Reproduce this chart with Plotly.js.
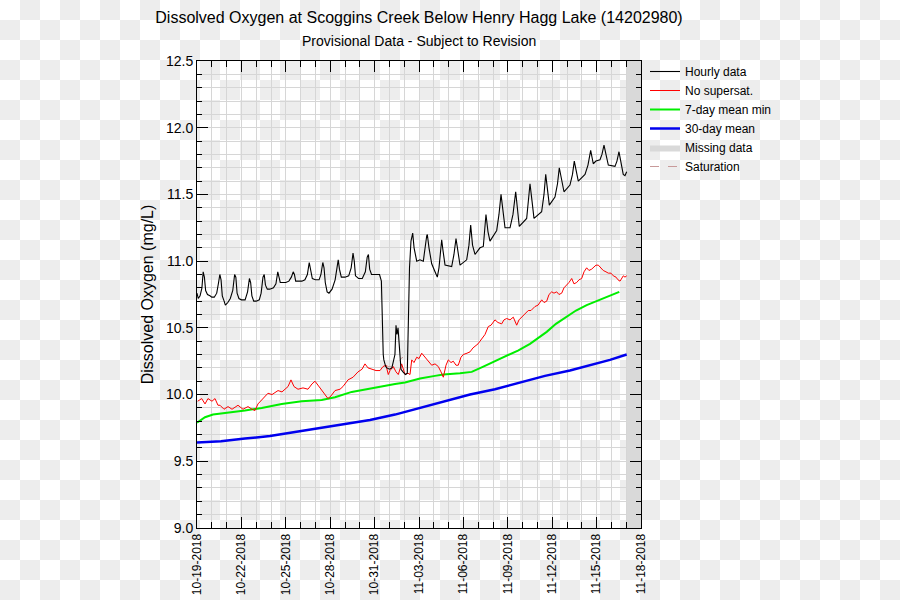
<!DOCTYPE html>
<html>
<head>
<meta charset="utf-8">
<script src="https://cdn.plot.ly/plotly-3.0.1.min.js"></script>
<style>html,body{margin:0;padding:0;background:#fff;}#chart{width:900px;height:600px;}</style>
</head>
<body>
<div id="chart"></div>
<script>
// Times are hours after 2018-10-19 00:00
var hourlyHours = [0,2,5,8,10,12,14,17,21,24,28,32,35,37,39,41,44,46,50,54,58,61,63,65,68,72,78,82,85,87,89,92,96,101,104,107,109,111,114,118,124,128,131,133,135,139,144,149,153,156,158,160,164,170,175,179,182,184,187,192,198,201,204,206,208,211,214,219,224,227,229,231,234,240,246,250,253,255,257,262,268,273,276,278,280,283,288,296,299,300,301,302,303,304,306,308,312,316,321,322.7,324.3,326,327.6,329.2,330.8,334,338,341,342.2,344.6,347,349.8,352,356.3,361.6,367,372.5,373.5,376.2,380.6,386,389.7,392.4,396.8,398.9,402.2,413,416.7,420,423.2,426.5,437.3,441,443.8,446.8,450.8,458.9,464.3,467,468.6,471.9,475.1,486,489.7,493,496.2,499.5,507.6,512.4,516.8,519.7,522.6,534.6,537.6,540,543.3,546.5,558.9,562.7,565.5,568.4,571.3,580.5,584.6,587.5,591.1,595.1,604.8,608.9,611.8,615.4,618.3,629.2,634,638.4,640.5,642.6,647,653.5,656.7,660,663.2,667,677.8,681,684.3,687.5,691.2,694,696.8];
var hourlyValues = [10.76,10.72,10.74,10.80,10.92,10.88,10.78,10.75,10.74,10.73,10.73,10.76,10.84,10.90,10.86,10.74,10.70,10.67,10.69,10.72,10.78,10.90,10.88,10.76,10.72,10.71,10.71,10.77,10.87,10.84,10.74,10.70,10.70,10.71,10.76,10.88,10.90,10.82,10.79,10.79,10.80,10.83,10.92,10.88,10.84,10.84,10.84,10.85,10.88,10.92,10.90,10.85,10.85,10.85,10.86,10.90,10.99,10.95,10.87,10.86,10.86,10.90,10.99,10.95,10.84,10.77,10.76,10.79,10.86,10.95,11.01,10.94,10.88,10.88,10.89,10.95,11.06,11.00,10.89,10.87,10.87,10.92,11.03,11.05,10.94,10.90,10.90,10.90,10.85,10.60,10.38,10.30,10.26,10.24,10.21,10.20,10.19,10.20,10.30,10.52,10.45,10.50,10.40,10.25,10.19,10.17,10.15,10.16,10.50,10.95,11.15,11.21,11.10,11.00,11.01,11.00,11.19,11.20,11.10,10.98,10.92,10.88,10.95,11.16,11.08,10.97,10.96,11.05,11.17,11.05,10.97,11.01,11.12,11.27,11.12,11.05,11.10,11.11,11.25,11.35,11.22,11.15,11.23,11.35,11.50,11.35,11.25,11.25,11.35,11.52,11.38,11.26,11.32,11.45,11.58,11.45,11.32,11.37,11.50,11.65,11.52,11.42,11.48,11.58,11.70,11.60,11.52,11.57,11.65,11.75,11.66,11.60,11.65,11.72,11.83,11.78,11.73,11.75,11.76,11.80,11.87,11.80,11.72,11.71,11.75,11.82,11.75,11.65,11.64,11.67];

var noSupersatHours = [1.1,7.6,13,17.8,24.3,29.2,34,37.3,43.8,50.3,56.8,66.5,74.6,82.7,89.2,94,98.9,105.4,110.3,115.1,121.6,131.4,137.8,142.7,147.6,152.4,157.3,163.8,171.9,180,186.5,191.4,196.2,204.3,209.2,212.4,217.3,223.8,231.9,236.7,244.9,253,261.1,267.6,272.4,277.3,283.8,290.3,296.8,301.6,306.5,310.2,313,318.3,322.7,326.4,331.9,337.3,342.2,345.4,348.2,351.9,356.3,360,364.4,368.1,372.5,376.2,380.6,386,391.3,395.7,399.4,403.8,407.5,411.9,415.6,420,423.7,428.1,431.8,437.8,442.7,447.6,450.8,455.7,458.9,463.8,467,472.4,476.8,483.2,488.1,494.1,497.8,502.2,507.6,512.9,518.4,522.2,526.5,531.9,537.2,541.6,548.1,553,559,562.7,567.1,570.8,575.2,578.9,583.3,587,591.4,595.1,599.5,603.2,607.6,611.3,615.7,619.5,623.8,627.6,631.9,635.6,640,643.8,647,650.8,655.1,658.8,663.2,667,671.3,675.1,679.5,682.7,686,688.6,691.3,694,696.8];
var noSupersatValues = [9.95,9.97,9.93,9.97,9.95,9.97,9.92,9.92,9.89,9.91,9.89,9.92,9.89,9.91,9.89,9.88,9.93,9.96,9.99,10.01,10.00,10.03,10.02,10.04,10.06,10.11,10.06,10.04,10.05,10.04,10.08,10.10,10.07,10.02,9.99,9.97,9.99,10.03,10.04,10.06,10.11,10.13,10.17,10.19,10.23,10.20,10.19,10.18,10.18,10.21,10.22,10.15,10.18,10.21,10.17,10.15,10.23,10.15,10.16,10.15,10.26,10.24,10.28,10.27,10.31,10.29,10.27,10.25,10.22,10.23,10.21,10.17,10.13,10.22,10.26,10.24,10.25,10.22,10.22,10.28,10.30,10.31,10.32,10.35,10.36,10.38,10.40,10.43,10.45,10.51,10.52,10.56,10.54,10.53,10.56,10.57,10.56,10.58,10.52,10.56,10.58,10.60,10.63,10.63,10.66,10.67,10.71,10.69,10.70,10.75,10.77,10.76,10.77,10.75,10.76,10.80,10.82,10.84,10.87,10.83,10.84,10.86,10.87,10.92,10.95,10.93,10.94,10.96,10.97,10.97,10.95,10.93,10.92,10.91,10.91,10.89,10.88,10.86,10.85,10.87,10.89,10.88,10.89];

var sevenDayHours = [0,13,26,40,58.4,77.8,104.9,137.3,169.8,202.2,223.8,250.9,283.3,321.1,337.3,353.5,361.6,385.9,399.4,426.5,445.5,464.3,483.2,502.2,520.5,540,553,567.1,582.1,599.5,614.6,631.9,647,664.4,684.8];
var sevenDayValues = [9.79,9.83,9.85,9.86,9.87,9.88,9.90,9.93,9.95,9.96,9.98,10.02,10.05,10.08,10.09,10.11,10.12,10.14,10.15,10.16,10.17,10.21,10.25,10.29,10.33,10.38,10.42,10.47,10.53,10.58,10.63,10.67,10.70,10.73,10.77];

var thirtyDayHours = [0,38.9,77.8,118.4,158.9,199.5,240,280.5,321.1,361.6,402.2,442.7,483.2,523.8,564.3,604.8,645.4,669.7,696.8];
var thirtyDayValues = [9.64,9.65,9.67,9.69,9.72,9.75,9.78,9.81,9.85,9.90,9.95,10.00,10.04,10.09,10.14,10.18,10.23,10.26,10.30];

var saturationHours = [306.5,310,314,318.3,322,326,330.8,334];
var saturationValues = [10.22,10.21,10.21,10.20,10.21,10.24,10.27,10.28];

var missingStart = '2018-11-17 01:00';
var missingEnd = '2018-11-18 00:00';
var yMin = 9.0, yMax = 12.5;

var seriesNames = ['Hourly data','No supersat.','7-day mean min','30-day mean','Missing data','Saturation'];
var chartTitle = 'Dissolved Oxygen at Scoggins Creek Below Henry Hagg Lake (14202980)';
var chartSubtitle = 'Provisional Data - Subject to Revision';
var yTitle = 'Dissolved Oxygen (mg/L)';

var base = Date.UTC(2018, 9, 19, 0, 0, 0);
function toDates(hours) {
  return hours.map(function (h) {
    return new Date(base + h * 3600000).toISOString().slice(0, 19).replace('T', ' ');
  });
}

var FONT = 'Liberation Sans, Arial, Helvetica, sans-serif';

var traces = [
  {x: toDates(hourlyHours), y: hourlyValues, name: seriesNames[0], type: 'scatter', mode: 'lines', line: {color: '#000000', width: 1.1}},
  {x: toDates(noSupersatHours), y: noSupersatValues, name: seriesNames[1], type: 'scatter', mode: 'lines', line: {color: '#ff0000', width: 1}},
  {x: toDates(sevenDayHours), y: sevenDayValues, name: seriesNames[2], type: 'scatter', mode: 'lines', line: {color: '#00ee00', width: 2}},
  {x: toDates(thirtyDayHours), y: thirtyDayValues, name: seriesNames[3], type: 'scatter', mode: 'lines', line: {color: '#0000ee', width: 2.5}},
  {x: [missingStart, missingEnd, missingEnd, missingStart, missingStart], y: [yMin, yMin, yMax, yMax, yMin], name: seriesNames[4], type: 'scatter', mode: 'lines', fill: 'toself', fillcolor: '#d9d9d9', line: {width: 0, color: '#d9d9d9'}},
  {x: toDates(saturationHours), y: saturationValues, name: seriesNames[5], type: 'scatter', mode: 'lines', line: {color: '#c89a9a', width: 1, dash: 'dash'}}
];
// draw order: missing band first, saturation beneath the red line
var drawOrder = [4, 5, 3, 2, 1, 0];
var legendRank = [1, 2, 3, 4, 5, 6];
traces.forEach(function (t, i) { t.legendrank = legendRank[i]; t.hoverinfo = 'skip'; });
var data = drawOrder.map(function (i) { return traces[i]; });

var W = 900, H = 600, L = 197, R = 259, T = 61, B = 72;
var pw = W - L - R, ph = H - T - B;

var checker = "<svg xmlns='http://www.w3.org/2000/svg' width='900' height='600'><defs><pattern id='p' width='40' height='40' patternUnits='userSpaceOnUse'><rect width='40' height='40' fill='#ffffff'/><rect x='20' y='0' width='20' height='20' fill='#ededed'/><rect x='0' y='20' width='20' height='20' fill='#ededed'/></pattern></defs><rect width='900' height='600' fill='url(#p)'/></svg>";

var layout = {
  width: W, height: H,
  margin: {l: L, r: R, t: T, b: B, pad: 0},
  paper_bgcolor: '#ffffff',
  plot_bgcolor: 'rgba(0,0,0,0)',
  font: {family: FONT, size: 12, color: '#000'},
  title: {text: chartTitle, font: {family: FONT, size: 16, color: '#000'}, x: (L + pw / 2) / W, xanchor: 'center', y: 1 - 17 / H, yanchor: 'middle'},
  annotations: [{text: chartSubtitle, xref: 'paper', yref: 'paper', x: 0.5, xanchor: 'center', y: 1 + (T - 41) / ph, yanchor: 'middle', showarrow: false, font: {family: FONT, size: 14, color: '#000'}}],
  images: [{source: 'data:image/svg+xml;charset=utf-8,' + encodeURIComponent(checker), xref: 'paper', yref: 'paper', x: -L / pw, y: 1 + T / ph, sizex: W / pw, sizey: H / ph, xanchor: 'left', yanchor: 'top', sizing: 'stretch', layer: 'below'}],
  xaxis: {
    type: 'date', range: ['2018-10-19 00:00', '2018-11-18 00:00'],
    tick0: '2018-10-19', dtick: 3 * 86400000, tickformat: '%m-%d-%Y', tickangle: -90,
    ticks: 'inside', ticklen: 11, tickcolor: '#000', tickwidth: 1,
    showline: true, linecolor: '#000', linewidth: 1, mirror: 'ticks',
    showgrid: true, gridcolor: '#d6d6d6', gridwidth: 1, zeroline: false,
    tickfont: {family: FONT, size: 12, color: '#000'},
    minor: {dtick: 86400000, tick0: '2018-10-19', ticks: 'inside', ticklen: 6, tickcolor: '#000', showgrid: true, gridcolor: '#d6d6d6', gridwidth: 1},
    fixedrange: true
  },
  yaxis: {
    range: [yMin, yMax], tick0: 9, dtick: 0.5, tickformat: '.1f',
    ticks: 'inside', ticklen: 11, tickcolor: '#000', tickwidth: 1,
    showline: true, linecolor: '#000', linewidth: 1, mirror: 'ticks',
    showgrid: true, gridcolor: '#d6d6d6', gridwidth: 1, zeroline: false,
    tickfont: {family: FONT, size: 14, color: '#000'},
    minor: {dtick: 0.1, tick0: 9, ticks: 'inside', ticklen: 5, tickcolor: '#000', showgrid: true, gridcolor: '#d6d6d6', gridwidth: 1},
    title: {text: yTitle, font: {family: FONT, size: 16, color: '#000'}, standoff: 8},
    fixedrange: true
  },
  showlegend: true,
  legend: {x: (645 - L) / pw, xanchor: 'left', y: 1 + 4 / ph, yanchor: 'top', bgcolor: 'rgba(0,0,0,0)', borderwidth: 0, font: {family: FONT, size: 12, color: '#000'}, itemwidth: 30, tracegroupgap: 0}
};

Plotly.newPlot('chart', data, layout, {displayModeBar: false, staticPlot: true});
</script>
</body>
</html>
